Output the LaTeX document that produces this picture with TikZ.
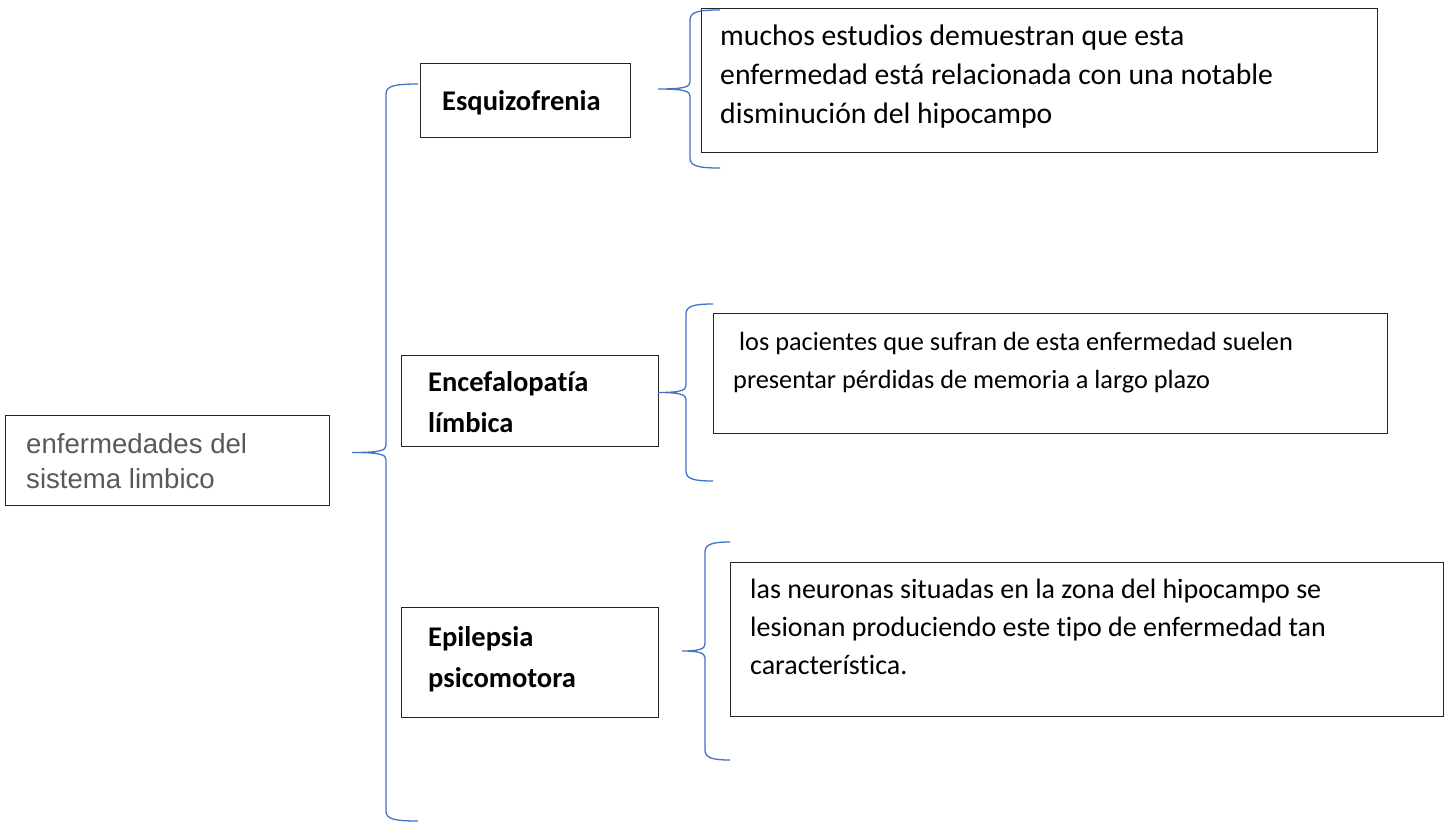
\documentclass[tikz,border=0pt]{standalone}
\usepackage{fontspec}
\setmainfont{Carlito}[Ligatures=NoCommon]
\newfontfamily\rootfont{Liberation Sans}
\usetikzlibrary{positioning}

\definecolor{braceblue}{HTML}{4472C4}
\definecolor{rootgray}{HTML}{595959}
\definecolor{framegray}{HTML}{262626}

\tikzset{
  box/.style={draw=framegray, line width=1.3pt, rectangle, inner sep=0pt, anchor=north west},
  bodytxt/.style={inner sep=0pt, anchor=base west, align=left, font=\fontsize{28}{38}\selectfont},
  titletxt/.style={inner sep=0pt, anchor=base west, align=left, font=\bfseries\fontsize{28.5}{41}\selectfont},
  roottxt/.style={inner sep=0pt, anchor=base west, align=left, text=rootgray, font=\rootfont\fontsize{27.6}{35}\selectfont},
  brace/.style={draw=braceblue, line width=1.3pt}
}

% #1 tip x, #2 spine x, #3 top y, #4 bottom y, #5 arm end x
\newcommand{\wordbrace}[5]{%
  \draw[brace] (#5,#3-3) .. controls (#2+8,#3-3) and (#2,#3-1) .. (#2,#3+7)
    -- (#2,{(#3+#4)/2-7}) .. controls (#2,{(#3+#4)/2-2}) and (#2-6,{(#3+#4)/2}) .. (#1,{(#3+#4)/2})
    .. controls (#2-6,{(#3+#4)/2}) and (#2,{(#3+#4)/2+2}) .. (#2,{(#3+#4)/2+7})
    -- (#2,#4-7) .. controls (#2,#4+1) and (#2+8,#4+3) .. (#5,#4+3);
}

\begin{document}
\begin{tikzpicture}[x=1pt, y=-1pt]
  \useasboundingbox (0,0) rectangle (1447,822);

  % root (text nodes sit on the baseline of their last line)
  \node[box, minimum width=324pt, minimum height=90pt] (root) at (5,415) {};
  \node[roottxt] (roottext) at (26,488) {enfermedades del\\sistema limbico};

  % diseases
  \node[box, minimum width=210pt, minimum height=74pt] (esq) at (420,63) {};
  \node[titletxt] (esqtext) at (442,110) {Esquizofrenia};

  \node[box, minimum width=257pt, minimum height=91pt] (enc) at (401,355) {};
  \node[titletxt] (enctext) at (428,432) {Encefalopatía\\límbica};

  \node[box, minimum width=257pt, minimum height=110pt] (epi) at (401,607) {};
  \node[titletxt] (epitext) at (428,687) {Epilepsia\\psicomotora};

  % descriptions
  \node[box, minimum width=676pt, minimum height=144pt] (esqinfo) at (701,8) {};
  \node[bodytxt, font=\fontsize{29.7}{39}\selectfont] (esqinfotext) at (720,123) {muchos estudios demuestran que esta\\enfermedad está relacionada con una notable\\disminución del hipocampo};

  \node[box, minimum width=674pt, minimum height=120pt] (encinfo) at (713,313) {};
  \node[bodytxt, font=\fontsize{26.3}{38}\selectfont] (encinfotext) at (733,388) {\ los pacientes que sufran de esta enfermedad suelen\\presentar pérdidas de memoria a largo plazo};

  \node[box, minimum width=713pt, minimum height=154pt] (epiinfo) at (730,562) {};
  \node[bodytxt] (epiinfotext) at (750,674) {las neuronas situadas en la zona del hipocampo se\\lesionan produciendo este tipo de enfermedad tan\\característica.};

  % braces
  \wordbrace{352}{386}{87}{818}{418}
  \wordbrace{658}{690}{13}{165}{720}
  \wordbrace{658}{686}{307}{478}{713}
  \wordbrace{682}{705}{545}{757}{730}
\end{tikzpicture}
\end{document}
